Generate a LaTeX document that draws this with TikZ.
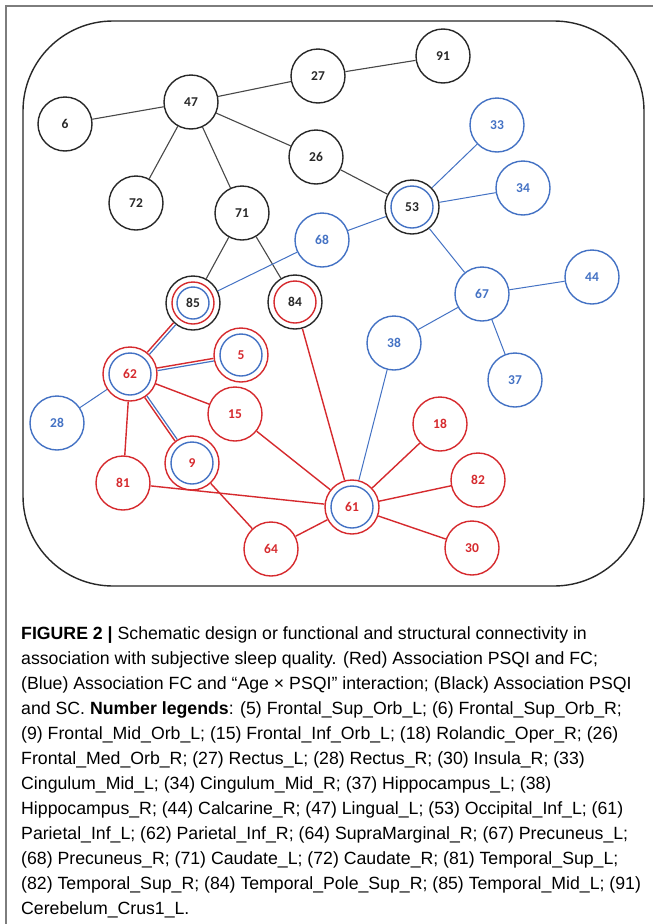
\documentclass[tikz,border=0pt]{standalone}
\usepackage{fontspec}
\setmainfont{Liberation Sans}
\newfontfamily\numfont{Carlito}
\usetikzlibrary{calc}
\definecolor{cred}{RGB}{214,42,46}
\definecolor{cblue}{RGB}{68,114,196}
\definecolor{cblk}{RGB}{40,40,40}
\definecolor{cframe}{RGB}{125,125,125}
\begin{document}
\begin{tikzpicture}[x=1pt,y=-1pt,
  nd/.style={circle, minimum size=54pt, inner sep=0pt, line width=1.4pt, font=\numfont\bfseries\fontsize{13.5}{13.5}\selectfont},
  bk/.style={nd, draw=cblk, text=cblk},
  bl/.style={nd, draw=cblue, text=cblue},
  rd/.style={nd, draw=cred, text=cred},
  ring/.style={line width=1.4pt},
  eblk/.style={draw=cblk!85, line width=1.1pt},
  eblu/.style={draw=cblue, line width=1pt},
  ered/.style={draw=cred, line width=1.4pt},
  captxt/.style={anchor=base west, inner sep=0pt, font=\fontsize{17.7}{25}\selectfont}
]
\useasboundingbox (0,0) rectangle (653,924);
\fill[white] (0,0) rectangle (653,924);
\draw[cframe, line width=1.2pt] (6,924) -- (6,6) -- (653,6);
\draw[cblk, line width=1.4pt, rounded corners=90pt] (23,21) rectangle (644,586);

% black nodes
\node[bk] (n6) at (65,124) {6};
\node[bk] (n47) at (191,102) {47};
\node[bk] (n27) at (318,76) {27};
\node[bk] (n91) at (443,56) {91};
\node[bk] (n26) at (316,157) {26};
\node[bk] (n72) at (136,203) {72};
\node[bk] (n71) at (242,213) {71};
\node[bk] (n53) at (412,207) {53};
\node[bk] (n85) at (193,303) {85};
\node[bk] (n84) at (295,302) {84};
% blue nodes
\node[bl] (n33) at (497,125) {33};
\node[bl] (n34) at (523,188) {34};
\node[bl] (n68) at (322,240) {68};
\node[bl] (n67) at (482,294) {67};
\node[bl] (n44) at (592,277) {44};
\node[bl] (n38) at (394,343) {38};
\node[bl] (n37) at (515,380) {37};
\node[bl] (n28) at (57,423) {28};
% red nodes
\node[rd] (n62) at (130,374) {62};
\node[rd] (n5) at (241,355) {5};
\node[rd] (n15) at (235,414) {15};
\node[rd] (n9) at (192,463) {9};
\node[rd] (n81) at (123,483) {81};
\node[rd] (n18) at (440,424) {18};
\node[rd] (n82) at (478,480) {82};
\node[rd] (n61) at (352,507) {61};
\node[rd] (n30) at (472,548) {30};
\node[rd] (n64) at (271,549) {64};

% inner rings
\draw[cblue, ring] (n53.center) circle[radius=21];
\draw[cred, ring] (n85.center) circle[radius=21];
\draw[cblue, ring] (n85.center) circle[radius=16];
\draw[cred, ring] (n84.center) circle[radius=21];
\draw[cblue, ring] (n62.center) circle[radius=21];
\draw[cblue, ring] (n5.center) circle[radius=21];
\draw[cblue, ring] (n9.center) circle[radius=21];
\draw[cblue, ring] (n61.center) circle[radius=21];

% black edges
\draw[eblk] (n6) -- (n47);
\draw[eblk] (n47) -- (n27);
\draw[eblk] (n27) -- (n91);
\draw[eblk] (n47) -- (n26);
\draw[eblk] (n26) -- (n53);
\draw[eblk] (n47) -- (n72);
\draw[eblk] (n47) -- (n71);
\draw[eblk] (n71) -- (n85);
\draw[eblk] (n71) -- (n84);
% blue edges
\draw[eblu] (n53) -- (n33);
\draw[eblu] (n53) -- (n34);
\draw[eblu] (n53) -- (n68);
\draw[eblu] (n68) -- (n85);
\draw[eblu] (n53) -- (n67);
\draw[eblu] (n67) -- (n44);
\draw[eblu] (n67) -- (n38);
\draw[eblu] (n67) -- (n37);
\draw[eblu] (n38) -- (n61);
\draw[eblu] (n62) -- (n28);
% double red/blue edges
\draw[ered, transform canvas={shift={(-1.1pt,1.0pt)}}] (n62) -- (n85);
\draw[eblu, line width=1.2pt, transform canvas={shift={(1.1pt,-1.0pt)}}] (n62) -- (n85);
\draw[ered, transform canvas={shift={(-0.25pt,1.3pt)}}] (n62) -- (n5);
\draw[eblu, line width=1.2pt, transform canvas={shift={(0.25pt,-1.3pt)}}] (n62) -- (n5);
\draw[ered, transform canvas={shift={(-1.1pt,-0.8pt)}}] (n62) -- (n9);
\draw[eblu, line width=1.2pt, transform canvas={shift={(1.1pt,0.8pt)}}] (n62) -- (n9);
% red edges
\draw[ered] (n62) -- (n15);
\draw[ered] (n62) -- (n81);
\draw[ered] (n15) -- (n61);
\draw[ered] (n9) -- (n64);
\draw[ered] (n81) -- (n61);
\draw[ered] (n84) -- (n61);
\draw[ered] (n64) -- (n61);
\draw[ered] (n61) -- (n18);
\draw[ered] (n61) -- (n82);
\draw[ered] (n61) -- (n30);

% caption
\node[captxt] (c1) at (21,639) {\textbf{FIGURE 2 |} Schematic design or functional and structural connectivity in};
\node[captxt] (c2) at (21,664) {association with subjective sleep quality. (Red) Association PSQI and FC;};
\node[captxt] (c3) at (21,689) {(Blue) Association FC and “Age × PSQI” interaction; (Black) Association PSQI};
\node[captxt] (c4) at (21,714) {and SC. \textbf{Number legends}: (5) Frontal\_Sup\_Orb\_L; (6) Frontal\_Sup\_Orb\_R;};
\node[captxt] (c5) at (21,739) {(9) Frontal\_Mid\_Orb\_L; (15) Frontal\_Inf\_Orb\_L; (18) Rolandic\_Oper\_R; (26)};
\node[captxt] (c6) at (21,764) {Frontal\_Med\_Orb\_R; (27) Rectus\_L; (28) Rectus\_R; (30) Insula\_R; (33)};
\node[captxt] (c7) at (21,789) {Cingulum\_Mid\_L; (34) Cingulum\_Mid\_R; (37) Hippocampus\_L; (38)};
\node[captxt] (c8) at (21,814) {Hippocampus\_R; (44) Calcarine\_R; (47) Lingual\_L; (53) Occipital\_Inf\_L; (61)};
\node[captxt] (c9) at (21,839) {Parietal\_Inf\_L; (62) Parietal\_Inf\_R; (64) SupraMarginal\_R; (67) Precuneus\_L;};
\node[captxt] (c10) at (21,864) {(68) Precuneus\_R; (71) Caudate\_L; (72) Caudate\_R; (81) Temporal\_Sup\_L;};
\node[captxt] (c11) at (21,889) {(82) Temporal\_Sup\_R; (84) Temporal\_Pole\_Sup\_R; (85) Temporal\_Mid\_L; (91)};
\node[captxt] (c12) at (21,914) {Cerebelum\_Crus1\_L.};
\end{tikzpicture}
\end{document}
